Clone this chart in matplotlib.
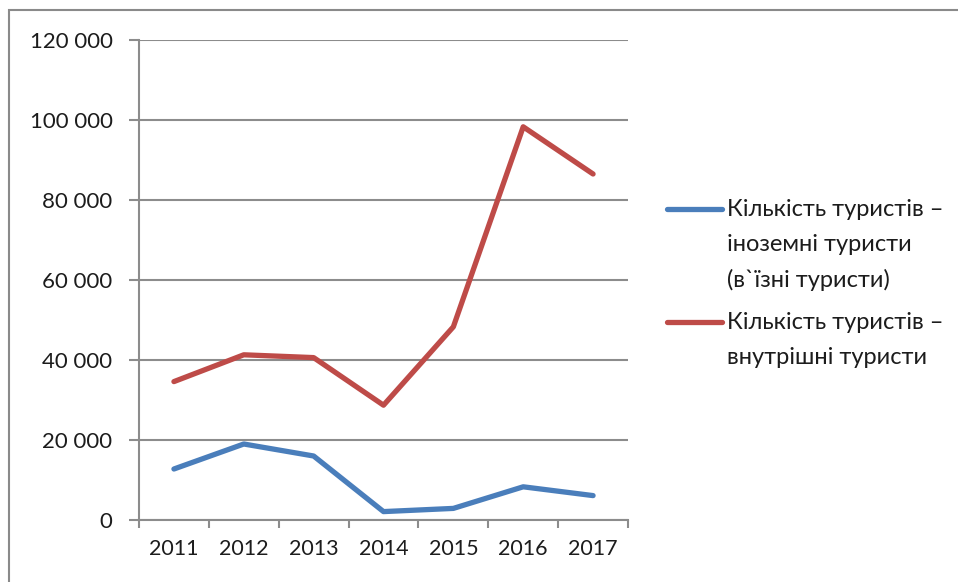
import matplotlib
matplotlib.use("Agg")
import matplotlib.pyplot as plt
from matplotlib.lines import Line2D
from matplotlib.patches import Rectangle
from matplotlib.ticker import FuncFormatter, FixedLocator
import numpy as np

plt.rcParams['font.family'] = ['Lato', 'Open Sans', 'DejaVu Sans']

years = ["2011", "2012", "2013", "2014", "2015", "2016", "2017"]
foreign = [12750, 19000, 16000, 2100, 2900, 8300, 6100]
domestic = [34600, 41300, 40600, 28700, 48300, 98300, 86500]

labels = ["Кількість туристів –\nіноземні туристи\n(в`їзні туристи)",
          "Кількість туристів –\nвнутрішні туристи"]
colors = ["#4a7ebb", "#be4b48"]

W, H = 958, 582
fig = plt.figure(figsize=(W / 100, H / 100), dpi=100)
ax = fig.add_axes([139 / W, 1 - 520 / H, (628 - 139) / W, (520 - 40) / H])

x = np.arange(len(years))
ax.plot(x, foreign, color=colors[0], lw=3.8, solid_capstyle='round', solid_joinstyle='round', zorder=3)
ax.plot(x, domestic, color=colors[1], lw=3.8, solid_capstyle='round', solid_joinstyle='round', zorder=3)

ax.set_xlim(-0.5, len(years) - 0.5)
ax.set_ylim(0, 120000)

grid_col = "#8c8c8c"
text_col = "#1c1c1c"
ax.set_yticks(np.arange(0, 120001, 20000))
ax.yaxis.set_major_formatter(FuncFormatter(lambda v, p: f"{int(v):,}".replace(",", " ")))
ax.yaxis.grid(True, color=grid_col, lw=1.5)
ax.set_axisbelow(True)

ax.set_xticks(x)
ax.set_xticklabels(years)
ax.xaxis.set_minor_locator(FixedLocator(np.arange(-0.5, len(years), 1.0)))
ax.tick_params(axis='x', which='major', length=0, pad=14, labelsize=15.5, labelcolor=text_col)
ax.tick_params(axis='x', which='minor', length=6, width=1.5, color=grid_col, direction='out')
ax.tick_params(axis='y', length=7, width=1.5, color=grid_col, pad=12, labelsize=16, labelcolor=text_col)

for s in ['top', 'right']:
    ax.spines[s].set_visible(False)
for s in ['left', 'bottom']:
    ax.spines[s].set_color(grid_col)
    ax.spines[s].set_linewidth(1.5)

# outer chart frame
fig.patches.append(Rectangle((9 / W, -0.1), 1.2, 1 - 10 / H + 0.1, transform=fig.transFigure,
                             fill=False, edgecolor="#8a8a8a", lw=1.5))

# legend drawn by hand so the key sits beside the first text line
legend_rows = [209, 322]
for lab, col, row in zip(labels, colors, legend_rows):
    yf = 1 - row / H
    fig.add_artist(Line2D([667 / W, 722 / W], [yf, yf], color=col, lw=3.8,
                          solid_capstyle='round', transform=fig.transFigure))
    fig.text(727 / W, 1 - (row - 10) / H, lab, fontsize=17, color=text_col,
             va='top', ha='left', linespacing=1.8)

fig.savefig("out.png", dpi=100)
